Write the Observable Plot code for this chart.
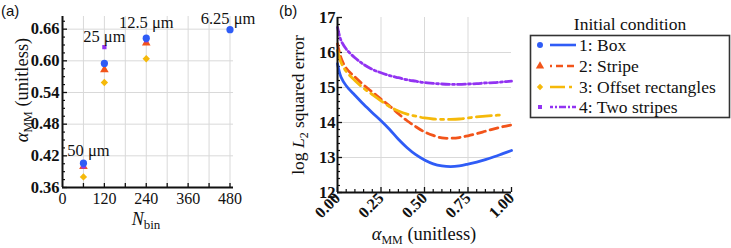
<!DOCTYPE html>
<html>
<head>
<meta charset="utf-8">
<script src="https://cdn.jsdelivr.net/npm/d3@7"></script>
<script src="https://cdn.jsdelivr.net/npm/@observablehq/plot@0.6"></script>
</head>
<body style="margin:0;padding:0;background:#fff">
<div id="wrap" style="position:relative;width:731px;height:248px;overflow:hidden"></div>
<script>
// ---------- DATA ----------
const seriesNames = ["1: Box", "2: Stripe", "3: Offset rectangles", "4: Two stripes"];
const seriesColors = ["#2f5cf6", "#f2541a", "#f5b90a", "#9233f2"];
const seriesSymbols = ["circle", "triangle", "diamond2", "square"];
const seriesDash = [null, "8,5", "15,5,3,5", "8,3,2,3"];

// Panel (a): alpha_MM at each N_bin
const nBin = [60, 120, 240, 480];
const binLabels = ["50 μm", "25 μm", "12.5 μm", "6.25 μm"];
const alphaBox = [0.406, 0.595, 0.643, 0.659];
const alphaStripe = [0.400, 0.583, 0.634, null];
const alphaOffset = [0.380, 0.559, 0.604, null];
const alphaTwo = [0.400, 0.626, 0.639, null];

const xTicksA = [0, 120, 240, 360, 480];
const xGridA = [60, 120, 180, 240, 300, 360, 420, 480];
const yTicksA = [0.36, 0.42, 0.48, 0.54, 0.60, 0.66];
const yMinorA = [0.375, 0.39, 0.405, 0.435, 0.45, 0.465, 0.495, 0.51, 0.525, 0.555, 0.57, 0.585, 0.615, 0.63, 0.645, 0.675];

// Panel (b): log L2 squared error vs alpha_MM
const alphaGrid = [0, 0.02, 0.05, 0.1, 0.15, 0.2, 0.25, 0.3, 0.35, 0.4, 0.45, 0.5, 0.55, 0.6, 0.65, 0.7, 0.75, 0.8, 0.85, 0.9, 0.95, 1.0];
const errBox    = [15.68, 15.30, 15.05, 14.78, 14.52, 14.28, 14.05, 13.80, 13.52, 13.28, 13.08, 12.93, 12.82, 12.76, 12.74, 12.76, 12.81, 12.87, 12.94, 13.02, 13.11, 13.20];
const errStripe = [16.25, 15.85, 15.55, 15.30, 15.07, 14.87, 14.67, 14.47, 14.25, 14.05, 13.88, 13.73, 13.63, 13.56, 13.55, 13.57, 13.62, 13.68, 13.75, 13.82, 13.88, 13.93];
const errOffset = [16.06, 15.72, 15.46, 15.20, 14.98, 14.80, 14.62, 14.45, 14.33, 14.24, 14.18, 14.13, 14.10, 14.09, 14.09, 14.10, 14.13, 14.16, 14.18, 14.20, 14.22, null];
const errTwo    = [16.72, 16.35, 16.10, 15.85, 15.66, 15.52, 15.42, 15.34, 15.28, 15.22, 15.18, 15.14, 15.12, 15.10, 15.09, 15.09, 15.10, 15.11, 15.13, 15.14, 15.16, 15.18];

const xTicksB = [0, 0.25, 0.5, 0.75, 1.0];
const xMinorB = [0.05, 0.1, 0.15, 0.2, 0.3, 0.35, 0.4, 0.45, 0.55, 0.6, 0.65, 0.7, 0.8, 0.85, 0.9, 0.95];
const yTicksB = [12, 13, 14, 15, 16, 17];
const yMinorB = [12.2, 12.4, 12.6, 12.8, 13.2, 13.4, 13.6, 13.8, 14.2, 14.4, 14.6, 14.8, 15.2, 15.4, 15.6, 15.8, 16.2, 16.4, 16.6, 16.8];

const xDomainA = [0, 490];
const yDomainA = [0.36, 0.684];
const xDomainB = [0, 1];
const yDomainB = [12, 17];

// ---------- TABLES ----------
const alphaSeries = [alphaBox, alphaStripe, alphaOffset, alphaTwo];
const errSeries = [errBox, errStripe, errOffset, errTwo];

const pointsA = [];
alphaSeries.forEach((arr, s) => arr.forEach((v, i) => { if (v != null) pointsA.push({N: nBin[i], alpha: v, s}); }));
const labelRows = nBin.map((n, i) => ({N: n, top: d3.max(alphaSeries, a => a[i]), label: binLabels[i], i}));

const linesB = [];
errSeries.forEach((arr, s) => arr.forEach((v, i) => linesB.push({a: alphaGrid[i], e: v, s})));

const wrap = document.getElementById("wrap");
const gridColor = "#d9d9d9";
const serif = "Liberation Serif";
const baseStyle = {fontFamily: serif, fontSize: "15px", color: "#111", background: "transparent", overflow: "visible"};
const ax = {label: null, fontFamily: serif};

// ---------- PANEL A ----------
const drawOrderA = [1, 2, 3, 0];
const dotRadius = [3.6, 3.2, 3.3, 2.4];
const labelText = {x: "N", y: "top", text: "label", lineAnchor: "bottom", fontSize: 16.5, fontFamily: serif, fill: "#111"};
const plotA = Plot.plot({
  width: 250, height: 248,
  marginLeft: 62, marginRight: 17, marginTop: 16, marginBottom: 61,
  style: baseStyle,
  x: {domain: xDomainA, label: null},
  y: {domain: yDomainA, label: null},
  marks: [
    Plot.gridX(xGridA, {stroke: gridColor, strokeOpacity: 1}),
    Plot.gridY(yTicksA.slice(1), {stroke: gridColor, strokeOpacity: 1}),
    Plot.axisX(xTicksA, {...ax, tickSize: 0, tickPadding: 5, tickFormat: d => String(d), fontSize: 16}),
    Plot.axisX(xGridA, {...ax, tickSize: -4, tickFormat: () => "", strokeWidth: 1.3}),
    Plot.axisY(yTicksA, {...ax, tickSize: -5, tickPadding: 8, tickFormat: d3.format(".2f"), fontSize: 16.5, fontWeight: "bold", strokeWidth: 1.3}),
    Plot.axisY(yMinorA, {...ax, tickSize: -3, tickFormat: () => "", strokeWidth: 1.2}),
    Plot.ruleX([xDomainA[0]], {stroke: "#111", strokeWidth: 2}),
    Plot.ruleY([yDomainA[0]], {stroke: "#111", strokeWidth: 2}),
    ...drawOrderA.map(s => Plot.dot(pointsA.filter(d => d.s === s), {
      x: "N", y: "alpha", symbol: seriesSymbols[s], fill: seriesColors[s], r: dotRadius[s], stroke: "none"
    })),
    Plot.text(labelRows.filter(d => d.i === 0), {...labelText, dy: -7, dx: 5}),
    Plot.text(labelRows.filter(d => d.i === 1), {...labelText, dy: -5, dx: 0}),
    Plot.text(labelRows.filter(d => d.i === 2), {...labelText, dy: -10, dx: 0}),
    Plot.text(labelRows.filter(d => d.i === 3), {...labelText, dy: -6, dx: -2})
  ]
});
plotA.style.position = "absolute";
plotA.style.top = "0px";
plotA.style.left = "0px";
wrap.appendChild(plotA);

// ---------- PANEL B ----------
const plotB = Plot.plot({
  width: 270, height: 248,
  marginLeft: 87, marginRight: 9, marginTop: 17, marginBottom: 56,
  style: baseStyle,
  x: {domain: xDomainB, label: null},
  y: {domain: yDomainB, label: null},
  marks: [
    Plot.gridX(xTicksB.slice(1, 4), {stroke: gridColor, strokeOpacity: 1}),
    Plot.gridY(yTicksB.slice(1, 5), {stroke: gridColor, strokeOpacity: 1}),
    Plot.axisX(xTicksB, {...ax, tickSize: -5, tickPadding: 8, tickRotate: -45, tickFormat: d3.format(".2f"), fontSize: 16, fontWeight: "bold", strokeWidth: 1.3}),
    Plot.axisX(xMinorB, {...ax, tickSize: -3, tickFormat: () => "", strokeWidth: 1.2}),
    Plot.axisY(yTicksB, {...ax, tickSize: -5, tickPadding: 7, tickFormat: d => String(d), fontSize: 16.5, fontWeight: "bold", strokeWidth: 1.3}),
    Plot.axisY(yMinorB, {...ax, tickSize: -3, tickFormat: () => "", strokeWidth: 1.2}),
    ...[0, 1, 2, 3].map(s => Plot.line(linesB.filter(d => d.s === s), {
      x: "a", y: "e", stroke: seriesColors[s], strokeWidth: 2.8,
      strokeDasharray: seriesDash[s] || undefined, curve: "catmull-rom"
    })),
    Plot.ruleX([xDomainB[0]], {stroke: "#111", strokeWidth: 2}),
    Plot.ruleY([yDomainB[0]], {stroke: "#111", strokeWidth: 2})
  ]
});
plotB.style.position = "absolute";
plotB.style.top = "0px";
plotB.style.left = "250px";
wrap.appendChild(plotB);

// ---------- OVERLAY: titles, panel labels, legend ----------
const svg = d3.select(wrap).append("svg")
  .attr("width", 731).attr("height", 248)
  .style("position", "absolute").style("top", "0px").style("left", "0px")
  .style("overflow", "visible").style("pointer-events", "none")
  .attr("fill", "#111");

svg.append("text").attr("class", "sans").attr("x", 1).attr("y", 16).attr("font-size", 15).text("(a)");
svg.append("text").attr("class", "sans").attr("x", 279).attr("y", 16).attr("font-size", 15).text("(b)");

function alphaMM(t) {
  t.append("tspan").attr("font-style", "italic").text("α");
  t.append("tspan").attr("font-size", 12).attr("dy", 4).text("MM");
}

// Panel a titles
const tNa = svg.append("text").attr("x", 146).attr("y", 225).attr("text-anchor", "middle").attr("font-size", 18);
tNa.append("tspan").attr("font-style", "italic").text("N");
tNa.append("tspan").attr("font-size", 13).attr("dy", 4).text("bin");

const tYa = svg.append("text").attr("transform", "translate(28,90) rotate(-90)").attr("text-anchor", "middle").attr("font-size", 18.5);
alphaMM(tYa);
tYa.append("tspan").attr("dy", -4).text(" (unitless)");

// Panel b titles
const tXb = svg.append("text").attr("x", 424).attr("y", 240).attr("text-anchor", "middle").attr("font-size", 18.5);
alphaMM(tXb);
tXb.append("tspan").attr("dy", -4).text(" (unitless)");

const tYb = svg.append("text").attr("transform", "translate(304,105) rotate(-90)").attr("text-anchor", "middle").attr("font-size", 17.5);
tYb.append("tspan").text("log ");
tYb.append("tspan").attr("font-style", "italic").text("L");
tYb.append("tspan").attr("font-size", 12).attr("dy", 4).text("2");
tYb.append("tspan").attr("dy", -4).text(" squared error");

// Legend
const lg = svg.append("g");
lg.append("text").attr("x", 630).attr("y", 30).attr("text-anchor", "middle").attr("font-size", 17.5).text("Initial condition");
lg.append("rect").attr("x", 530.5).attr("y", 35.5).attr("width", 199).attr("height", 82)
  .attr("fill", "none").attr("stroke", "#333").attr("stroke-width", 1.6);
const rowY = [45, 66, 87, 107];
const legSymSize = [28, 30, 26, 16];
const legDash = [null, "7,4", "15,4,3,4", "7,2,2,2"];
const legOffset = [0, 5, 0, 4];
const symMap = {circle: d3.symbolCircle, triangle: d3.symbolTriangle, diamond2: d3.symbolDiamond2, square: d3.symbolSquare};
seriesNames.forEach((name, s) => {
  const y = rowY[s];
  lg.append("path").attr("transform", `translate(540,${y})`)
    .attr("d", d3.symbol(symMap[seriesSymbols[s]], legSymSize[s])())
    .attr("fill", seriesColors[s]);
  lg.append("line").attr("x1", 550).attr("x2", 576).attr("y1", y).attr("y2", y)
    .attr("stroke", seriesColors[s]).attr("stroke-width", 2.6)
    .attr("stroke-dasharray", legDash[s]).attr("stroke-dashoffset", legOffset[s]);
  lg.append("text").attr("x", 579).attr("y", y + 6).attr("font-size", 17.5).text(name);
});

// Fonts set inline on every text element
wrap.querySelectorAll("text").forEach(t => {
  const fam = t.classList.contains("sans") ? "Liberation Sans" : "Liberation Serif";
  t.setAttribute("font-family", fam);
  t.style.fontFamily = "'" + fam + "'";
});
</script>
</body>
</html>
